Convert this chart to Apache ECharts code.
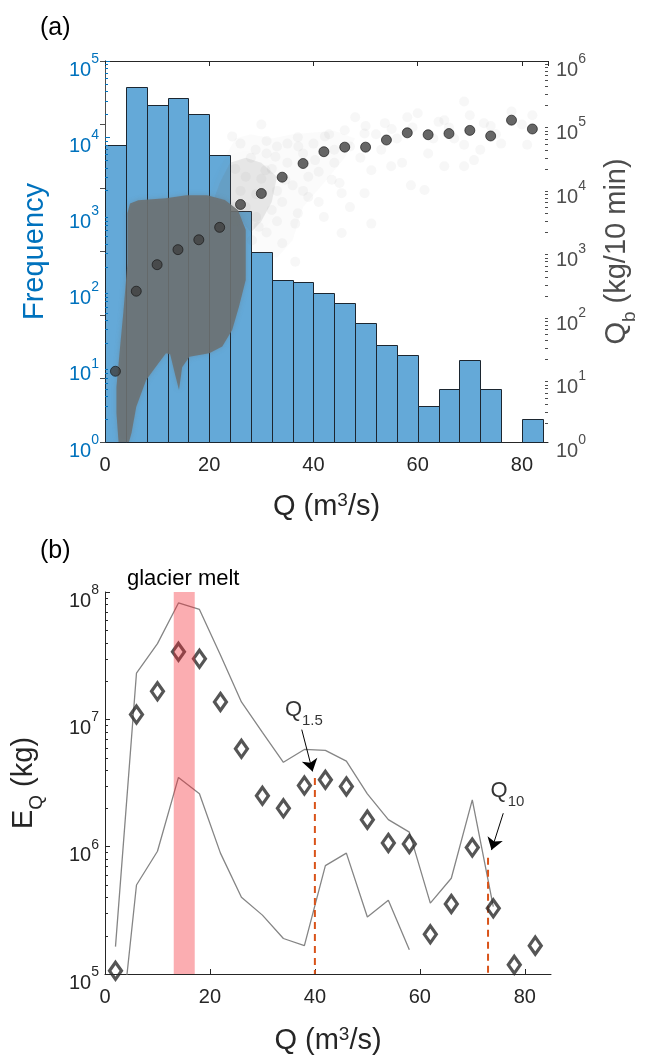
<!DOCTYPE html>
<html><head><meta charset="utf-8">
<script src="https://cdn.jsdelivr.net/npm/echarts@6/dist/echarts.min.js"></script>
<style>html,body{margin:0;padding:0;background:#fff}#c{width:647px;height:1059px}</style>
</head><body><div id="c"></div>
<script>
// ---------- Panel (a) data ----------
const binEdges = [0,4,8,12,16,20,24,28,32,36,40,44,48,52,56,60,64,68,72,76,80,84];
const frequency = [8000,45700,26700,32300,20000,5840,1085,313,134,126,89,67,37,19,14,3,5,12,5,0,2];
const binCentres = [2,6,10,14,18,22,26,30,34,38,42,46,50,54,58,62,66,70,74,78,82];
const qbBinned = [13,237,620,1070,1530,2400,5500,8200,14800,24300,37300,44000,44000,57000,74000,69000,72000,80800,66000,117000,85000];
// dense part of the 10-min Qb cloud, outline [Q, Qb]
const cloudCore = [[2.6,1],[2.2,2.8],[2.2,7.4],[2.9,32],[3.5,106],[4.3,650],[4.3,4000],[4.8,5700],[6.4,6400],[11.7,6900],[15.6,7700],[19.6,7700],[23,6500],[25.5,4500],[27,2200],[27,355],[25.7,135],[24.4,58],[22.5,32],[20,25],[16.2,22],[14.8,15],[14.2,6.6],[13.4,12],[12.5,24],[11.7,25],[9.8,15.4],[7.9,9.5],[6,3.6],[5.1,1.4],[4.6,1]];
// medium / light density parts of the cloud
const cloudHazeOuter = [[20,7700],[21,12000],[23,30000],[25,60000],[28,70000],[32,60000],[36,70000],[40,75000],[44,80000],[48,60000],[46,30000],[42,12000],[38,5000],[36,1500],[33,800],[30,900],[28,1100],[27,2500],[25,4500],[23,6500]];
const cloudHazeInner = [[21,7000],[22,12000],[24,25000],[27,30000],[30,25000],[33,15000],[32,6000],[30,3000],[28,2000],[27,2500],[25,4500],[23,6500]];
const cloudSparse = [[24.4,65000],[28.9,40000],[32.7,31000],[37.1,45000],[42.2,65000],[46,81000],[49.8,72000],[53.7,105000],[60,150000],[65.1,117000],[68.9,230000],[72.7,105000],[81,48000],[68.9,48000],[65.1,22000],[68.9,22000],[70.8,27500],[61.3,9300],[58.7,11000],[54.9,22000],[51.1,19000],[49.8,8300],[51.1,2750],[45.4,1950],[45.4,8300],[43.5,13500],[40.3,27500],[39,7200],[36.5,2750],[36.5,690],[34,1350],[32,4500],[34.6,13500],[30.8,19000],[29.5,2450],[28.2,1500],[26,50000],[37,63000],[31,55000],[44,40000],[56,60000],[62,35000],[66,90000],[75,70000],[78,160000],[58,130000],[47,5000],[42,3500],[53,40000],[63,60000],[72,40000],[80,100000],[57,25000],[35,25000],[33,9000],[39,15000],[48,130000],[30,100000],[25,20000],[26,9000],[27,15000],[28,30000],[29,8000],[30,14000],[31,35000],[32,20000],[33,45000],[34,6000],[35,50000],[36,11000],[38,35000],[38,9000],[40,50000],[41,18000],[43,70000],[44,25000],[45,12000],[47,45000],[49,30000],[50,95000],[52,70000],[55,85000],[59,90000],[64,110000],[67,60000],[70,140000],[74,95000],[76,50000],[82,140000],[27,5000],[29,3500],[31,2000],[33,3000],[37,4000],[41,6000],[25,3000]];

// ---------- Panel (b) data ----------
const eqQ = [2,6,10,14,18,22,26,30,34,38,42,46,50,54,58,62,66,70,74,78,82];
const eqValues = [1.06e5,1.09e7,1.66e7,3.39e7,2.99e7,1.37e7,5.87e6,2.51e6,2.0e6,3.02e6,3.35e6,2.97e6,1.63e6,1.07e6,1.05e6,2.05e5,3.55e5,9.84e5,3.28e5,1.18e5,1.67e5];
const upperQ = [2,6,10,14,18,22,26,30,34,38,42,46,50,54,58,62,66,70,74];
const upperValues = [1.64e5,2.31e7,3.93e7,8.2e7,7.3e7,3.2e7,1.37e7,7.9e6,4.6e6,5.8e6,5.7e6,4.7e6,2.6e6,1.63e6,1.3e6,3.6e5,5.65e5,2.33e6,3.38e5];
const lowerQ = [2,6,10,14,18,22,26,30,34,38,42,46,50,54,58];
const lowerValues = [1.4e4,5.0e5,9.2e5,3.5e6,2.6e6,8.9e5,4.0e5,2.9e5,1.9e5,1.67e5,7.1e5,8.9e5,2.8e5,3.8e5,1.55e5];
const glacierMeltRange = [13.1, 17.1];
const floodQ = [40, 73];            // Q1.5, Q10
const floodTop = [3.46e6, 8.17e5];  // top of dashed lines
const floodNames = ['1.5', '10'];
const arrowFrom = [[37.5, 8.3e6], [75.9, 1.83e6]];
const arrowTo = [[39.56, 3.9e6], [73.66, 9.4e5]];
const labelAt = [[37.9, 1.107e7], [76.7, 2.55e6]];

// ---------- styling ----------
const FONT = '"Liberation Sans", Arial, Helvetica, sans-serif';
const BLUE = '#0072BD';
const GRAYAX = '#4d4d4d';
const DARK = '#262626';
const BAR = '#64a9d8';

function powLabel(color, margin) {
  return {
    margin: margin,
    padding: [10, 0, 0, 0],
    formatter: v => '{b|10}{s|' + Math.round(Math.log10(v)) + '}',
    rich: {
      b: {fontSize: 20, fontFamily: FONT, color: color, lineHeight: 28, verticalAlign: 'bottom'},
      s: {fontSize: 14, fontFamily: FONT, color: color, verticalAlign: 'top'}
    }
  };
}
function xLabel() {
  return {
    margin: 13, showMaxLabel: false, color: DARK, fontSize: 20, fontFamily: FONT,
    formatter: v => (v % 20 === 0 ? String(v) : '')
  };
}
function minorTicks(xi, yi, lo, hi, xEdge, dir, color) {
  const vals = [];
  for (let n = lo; n < hi; n++) for (let k = 2; k <= 9; k++) vals.push([xEdge, k * Math.pow(10, n)]);
  return {
    type: 'custom', xAxisIndex: xi, yAxisIndex: yi, silent: true, z: 6, data: vals,
    encode: {x: 0, y: 1},
    renderItem: (p, api) => {
      const c = api.coord([api.value(0), api.value(1)]);
      const y = Math.round(c[1]) + 0.5;
      return {type: 'line', shape: {x1: c[0], y1: y, x2: c[0] + dir * 3, y2: y}, style: {stroke: color, lineWidth: 1}};
    }
  };
}
function polygonSeries(points, fill, blur, shadow) {
  return {
    type: 'custom', xAxisIndex: 0, yAxisIndex: 1, silent: true, clip: true,
    data: [[10, 100]], encode: {x: 0, y: 1},
    renderItem: (p, api) => ({
      type: 'polygon',
      shape: {points: points.map(pt => api.coord(pt))},
      style: {fill: fill, shadowBlur: blur, shadowColor: shadow}
    })
  };
}

const histData = frequency.map((f, i) => [binEdges[i], binEdges[i + 1], f]);

const option = {
  animation: false,
  backgroundColor: '#fff',
  graphic: [
    {type: 'text', left: 40, top: 16, style: {text: '(a)', font: '25px ' + FONT, fill: '#000'}},
    {type: 'text', left: 40, top: 539, style: {text: '(b)', font: '25px ' + FONT, fill: '#000'}},
    {type: 'text', left: 127, top: 568, style: {text: 'glacier melt', font: '22px ' + FONT, fill: '#000'}}
  ],
  grid: [
    {left: 105, top: 61, width: 446, height: 381},
    {left: 105, top: 592, width: 446, height: 382}
  ],
  xAxis: [
    {gridIndex: 0, type: 'value', min: 0, max: 85, interval: 20, position: 'bottom',
     axisLine: {onZero: false, lineStyle: {color: DARK, width: 1}},
     axisTick: {inside: true, length: 5, lineStyle: {color: DARK}},
     splitLine: {show: false}, axisLabel: xLabel(),
     name: '{n|Q (m}{p|3}{n|/s)}', nameLocation: 'middle', nameGap: 49,
     nameTextStyle: {rich: {n: {fontSize: 29, lineHeight: 32, fontFamily: FONT, color: DARK},
                            p: {fontSize: 19, fontFamily: FONT, color: DARK, verticalAlign: 'top'}}}},
    {gridIndex: 0, type: 'value', min: 0, max: 85, interval: 20, position: 'top',
     axisLine: {onZero: false, lineStyle: {color: DARK, width: 1}},
     axisTick: {inside: true, length: 5, lineStyle: {color: DARK}},
     splitLine: {show: false}, axisLabel: {show: false}},
    {gridIndex: 1, type: 'value', min: 0, max: 85, interval: 20, position: 'bottom',
     axisLine: {onZero: false, lineStyle: {color: DARK, width: 1}},
     axisTick: {inside: true, length: 5, lineStyle: {color: DARK}},
     splitLine: {show: false}, axisLabel: xLabel(),
     name: '{n|Q (m}{p|3}{n|/s)}', nameLocation: 'middle', nameGap: 51,
     nameTextStyle: {rich: {n: {fontSize: 29, lineHeight: 32, fontFamily: FONT, color: DARK},
                            p: {fontSize: 19, fontFamily: FONT, color: DARK, verticalAlign: 'top'}}}}
  ],
  yAxis: [
    {gridIndex: 0, type: 'log', logBase: 10, min: 1, max: 1e5, position: 'left',
     axisLine: {show: true, lineStyle: {color: BLUE}},
     axisTick: {inside: true, length: 5, lineStyle: {color: BLUE}},
     splitLine: {show: false}, axisLabel: powLabel(BLUE, 6),
     name: 'Frequency', nameLocation: 'middle', nameGap: 54,
     nameTextStyle: {fontSize: 29, fontFamily: FONT, color: BLUE, lineHeight: 32}},
    {gridIndex: 0, type: 'log', logBase: 10, min: 1, max: 1e6, position: 'right',
     axisLine: {show: true, lineStyle: {color: GRAYAX}},
     axisTick: {inside: true, length: 5, lineStyle: {color: GRAYAX}},
     splitLine: {show: false}, axisLabel: powLabel(GRAYAX, 8),
     name: '{n|Q}{sb|b}{n| (kg/10 min)}', nameLocation: 'middle', nameGap: 47,
     nameTextStyle: {rich: {n: {fontSize: 29, lineHeight: 44, fontFamily: FONT, color: GRAYAX},
                            sb: {fontSize: 19, lineHeight: 44, fontFamily: FONT, color: GRAYAX, verticalAlign: 'bottom'}}}},
    {gridIndex: 1, type: 'log', logBase: 10, min: 1e5, max: 1e8, position: 'left',
     axisLine: {show: true, lineStyle: {color: DARK}},
     axisTick: {inside: true, length: 5, lineStyle: {color: DARK}},
     splitLine: {show: false}, axisLabel: powLabel(DARK, 6),
     name: '{n|E}{sb|Q}{n| (kg)}', nameLocation: 'middle', nameGap: 59,
     nameTextStyle: {rich: {n: {fontSize: 29, lineHeight: 44, fontFamily: FONT, color: DARK},
                            sb: {fontSize: 19, lineHeight: 44, fontFamily: FONT, color: DARK, verticalAlign: 'bottom'}}}}
  ],
  series: [
    // histogram
    {type: 'custom', name: 'Frequency', xAxisIndex: 0, yAxisIndex: 0, data: histData,
     encode: {x: [0, 1], y: 2}, z: 2,
     renderItem: (p, api) => {
       const f = api.value(2);
       if (!(f > 0)) return null;
       const a = api.coord([api.value(0), 1]);
       const b = api.coord([api.value(1), f]);
       const x0 = Math.round(a[0]) + 0.5, x1 = Math.round(b[0]) + 0.5;
       const y0 = Math.round(a[1]) + 0.5, y1 = Math.round(b[1]) + 0.5;
       return {type: 'rect', shape: {x: x0, y: y1, width: x1 - x0, height: y0 - y1},
               style: {fill: BAR, stroke: '#1c2630', lineWidth: 1}};
     }},
    polygonSeries(cloudHazeOuter, 'rgba(130,130,130,0.035)', 26, 'rgba(130,130,130,0.10)'),
    polygonSeries(cloudHazeInner, 'rgba(110,110,110,0.13)', 18, 'rgba(110,110,110,0.18)'),
    {type: 'scatter', xAxisIndex: 0, yAxisIndex: 1, silent: true, data: cloudSparse,
     symbolSize: 10, itemStyle: {color: 'rgba(120,120,120,0.075)'}},
    polygonSeries(cloudCore, 'rgba(108,112,112,0.86)', 5, 'rgba(108,112,112,0.4)'),
    // binned Qb
    {type: 'scatter', name: 'Qb', xAxisIndex: 0, yAxisIndex: 1, z: 4,
     data: binCentres.map((q, i) => [q, qbBinned[i]]),
     symbolSize: 10, itemStyle: {color: '#404040', borderColor: '#111', borderWidth: 0.8}},
    minorTicks(0, 0, 0, 5, 0, 1, BLUE),
    minorTicks(0, 1, 0, 6, 85, -1, GRAYAX),
    minorTicks(2, 2, 5, 8, 0, 1, DARK),
    // panel b
    {type: 'line', xAxisIndex: 2, yAxisIndex: 2, data: upperQ.map((q, i) => [q, upperValues[i]]),
     showSymbol: false, symbol: 'none', clip: true, lineStyle: {color: '#858585', width: 1.3}},
    {type: 'line', xAxisIndex: 2, yAxisIndex: 2, data: lowerQ.map((q, i) => [q, lowerValues[i]]),
     showSymbol: false, symbol: 'none', clip: true, lineStyle: {color: '#858585', width: 1.3}},
    {type: 'line', xAxisIndex: 2, yAxisIndex: 2, data: [[floodQ[0], floodTop[0]], [floodQ[0], 1e5]],
     showSymbol: false, symbol: 'none', lineStyle: {color: '#D95319', width: 2, type: [7, 5]}},
    {type: 'line', xAxisIndex: 2, yAxisIndex: 2, data: [[floodQ[1], floodTop[1]], [floodQ[1], 1e5]],
     showSymbol: false, symbol: 'none', lineStyle: {color: '#D95319', width: 2, type: [7, 5]}},
    {type: 'scatter', name: 'EQ', xAxisIndex: 2, yAxisIndex: 2, z: 3,
     data: eqQ.map((q, i) => [q, eqValues[i]]),
     symbol: 'diamond', symbolSize: [12, 17],
     itemStyle: {color: 'rgba(255,255,255,0)', borderColor: '#2b2b2b', borderWidth: 3.3},
     markLine: {silent: true, symbol: ['none', 'arrow'], symbolSize: 12, animation: false,
       lineStyle: {color: '#000', width: 1, type: 'solid'}, label: {show: false},
       data: arrowFrom.map((f, i) => [{coord: f}, {coord: arrowTo[i]}])}},
    {type: 'scatter', xAxisIndex: 2, yAxisIndex: 2, silent: true, z: 6,
     data: labelAt.map((p, i) => [p[0], p[1], floodNames[i]]),
     symbolSize: 1, itemStyle: {color: 'rgba(0,0,0,0)'},
     label: {show: true, position: 'inside', formatter: p => '{q|Q}{s|' + p.value[2] + '}',
       rich: {q: {fontSize: 22, fontFamily: FONT, color: '#000', lineHeight: 29, verticalAlign: 'top'},
              s: {fontSize: 15, fontFamily: FONT, color: '#000', verticalAlign: 'bottom'}}}},
    // glacier melt band (drawn on top, translucent)
    {type: 'custom', xAxisIndex: 2, yAxisIndex: 2, silent: true, z: 5,
     data: [[glacierMeltRange[0], glacierMeltRange[1]]], encode: {x: [0, 1]},
     renderItem: (p, api) => {
       const a = api.coord([api.value(0), 1e8]);
       const b = api.coord([api.value(1), 1e5]);
       return {type: 'rect', shape: {x: a[0], y: a[1], width: b[0] - a[0], height: b[1] - a[1]},
               style: {fill: 'rgba(245,40,50,0.38)'}};
     }}
  ]
};
const chart = echarts.init(document.getElementById('c'), null, {renderer: 'canvas'});
chart.setOption(option);
</script></body></html>
